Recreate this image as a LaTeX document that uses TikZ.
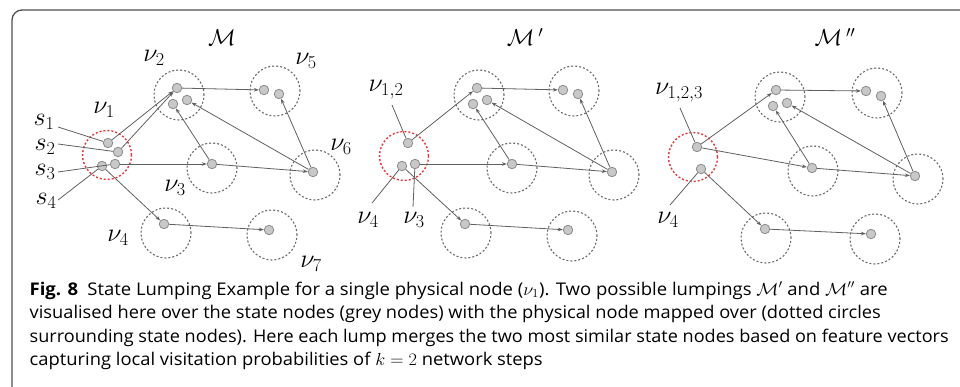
\RequirePackage{fix-cm}
\documentclass[tikz,border=0pt]{standalone}
\usepackage{graphicx}
\usepackage[no-math]{fontspec}
\setmainfont{Open Sans}
\usetikzlibrary{arrows.meta}
\definecolor{dotfill}{HTML}{C8C8C8}
\definecolor{dotdraw}{HTML}{8C8C8C}
\definecolor{ringc}{HTML}{6A6A6A}
\definecolor{redringc}{HTML}{E2383A}
\definecolor{edgec}{HTML}{606060}
\definecolor{framec}{HTML}{505050}
\begin{document}
\begin{tikzpicture}[x=1pt,y=-1pt,
 sdot/.style={circle,fill=dotfill,draw=dotdraw,line width=0.8pt,minimum size=9.5pt,inner sep=0pt},
 pring/.style={circle,draw=ringc,dash pattern=on 2pt off 2pt,line width=1.1pt,minimum size=50pt,inner sep=0pt},
 redring/.style={pring,draw=redringc,line width=1.4pt,minimum size=49pt},
 arr/.style={draw=edgec,line width=0.8pt,-{Stealth[length=5pt,width=3.6pt]}},
 ptr/.style={draw=edgec,line width=0.8pt},
 lab/.style={inner sep=0pt,font=\fontsize{26}{28}\selectfont},
 ttl/.style={inner sep=0pt,font=\fontsize{23}{26}\selectfont},
 captxt/.style={anchor=base west,inner sep=0pt,font=\fontsize{17.5}{20}\selectfont},
 frame/.style={draw=framec,line width=1.3pt}]
\useasboundingbox (0,0) rectangle (960,387);
\draw[frame,rounded corners=10pt] (12,387) -- (12,10) -- (961,10);

% ---------- panel 1 ----------
\node[ttl] (t1) at (222,38) {$\mathcal{M}$};
\node[pring] (r12) at (179,95) {};
\node[pring] (r15) at (275,91) {};
\node[pring] (r13) at (212,168) {};
\node[pring] (r16) at (315,175) {};
\node[pring] (r14) at (166,233) {};
\node[pring] (r17) at (272,235) {};
\node[redring] (r11) at (107,155) {};
\node[sdot] (a2a) at (177,88) {};
\node[sdot] (a2b) at (173,104) {};
\node[sdot] (a2c) at (187,100) {};
\node[sdot] (a5a) at (264,90) {};
\node[sdot] (a5b) at (279,94) {};
\node[sdot] (a3) at (212,164) {};
\node[sdot] (a6) at (313,172) {};
\node[sdot] (a4) at (164,224) {};
\node[sdot] (a7) at (269,230) {};
\node[sdot] (s1) at (108,143) {};
\node[sdot] (s2) at (118,152) {};
\node[sdot] (s3) at (115,164) {};
\node[sdot] (s4) at (102,166) {};
\node[lab] (la2) at (154,58) {$\nu_2$};
\node[lab] (la5) at (306,61) {$\nu_5$};
\node[lab] (la1) at (104,110) {$\nu_1$};
\node[lab] (la6) at (341,147) {$\nu_6$};
\node[lab] (la3) at (175,188) {$\nu_3$};
\node[lab] (la4) at (118,238) {$\nu_4$};
\node[lab] (la7) at (311,264) {$\nu_7$};
\node[lab] (ls1) at (44,122) {$s_1$};
\node[lab] (ls2) at (45,147) {$s_2$};
\node[lab] (ls3) at (45,172) {$s_3$};
\node[lab] (ls4) at (46,201) {$s_4$};
\coordinate (q1) at (58,127);
\coordinate (q2) at (58,144);
\coordinate (q3) at (58,172);
\coordinate (q4) at (58,200);
\draw[ptr] (q1) -- (s1);
\draw[ptr] (q2) -- (s2);
\draw[ptr] (q3) -- (s3);
\draw[ptr] (q4) -- (s4);
\draw[arr] (s1) -- (a2a);
\draw[arr] (s2) -- (a2a);
\draw[arr] (s3) -- (a3);
\draw[arr] (s4) -- (a4);
\draw[arr] (a2a) -- (a5a);
\draw[arr] (a3) -- (a2b);
\draw[arr] (a3) -- (a6);
\draw[arr] (a6) -- (a2c);
\draw[arr] (a6) -- (a5b);
\draw[arr] (a4) -- (a7);

% ---------- panel 2 ----------
\node[ttl] (t2) at (525,37) {$\mathcal{M}\,^{\prime}$};
\node[pring] (r22) at (479,95) {};
\node[pring] (r25) at (574,91) {};
\node[pring] (r23) at (512,168) {};
\node[pring] (r26) at (614,175) {};
\node[pring] (r24) at (466,233) {};
\node[pring] (r27) at (572,236) {};
\node[redring] (r21) at (404,156) {};
\node[sdot] (b2a) at (477,88) {};
\node[sdot] (b2b) at (473,104) {};
\node[sdot] (b2c) at (487,100) {};
\node[sdot] (b5a) at (563,90) {};
\node[sdot] (b5b) at (578,94) {};
\node[sdot] (b3) at (512,164) {};
\node[sdot] (b6) at (612,172) {};
\node[sdot] (b4) at (465,224) {};
\node[sdot] (b7) at (568,230) {};
\node[sdot] (m12) at (408,143) {};
\node[sdot] (m4) at (402,166) {};
\node[sdot] (m3) at (415,164) {};
\node[lab] (lb12) at (386,90) {$\nu_{1,2}$};
\node[lab] (lb4) at (368,220) {$\nu_4$};
\node[lab] (lb3) at (414,220) {$\nu_3$};
\coordinate (q5) at (392,105);
\coordinate (q6) at (372,203);
\coordinate (q7) at (413,207);
\draw[ptr] (q5) -- (m12);
\draw[ptr] (q6) -- (m4);
\draw[ptr] (q7) -- (m3);
\draw[arr] (m12) -- (b2a);
\draw[arr] (m3) -- (b3);
\draw[arr] (m4) -- (b4);
\draw[arr] (b2a) -- (b5a);
\draw[arr] (b3) -- (b2b);
\draw[arr] (b3) -- (b6);
\draw[arr] (b6) -- (b2c);
\draw[arr] (b6) -- (b5b);
\draw[arr] (b4) -- (b7);

% ---------- panel 3 ----------
\node[ttl] (t3) at (835,37) {$\mathcal{M}\,^{\prime\prime}$};
\node[pring] (r32) at (780,97) {};
\node[pring] (r35) at (877,93) {};
\node[pring] (r33) at (813,171) {};
\node[pring] (r36) at (918,179) {};
\node[pring] (r34) at (766,238) {};
\node[pring] (r37) at (875,239) {};
\node[redring] (r31) at (693,157) {};
\node[sdot] (c2a) at (776,90) {};
\node[sdot] (c2b) at (773,106) {};
\node[sdot] (c2c) at (787,103) {};
\node[sdot] (c5a) at (866,91) {};
\node[sdot] (c5b) at (881,96) {};
\node[sdot] (c3) at (812,168) {};
\node[sdot] (c6) at (915,176) {};
\node[sdot] (c4) at (765,229) {};
\node[sdot] (c7) at (871,234) {};
\node[sdot] (n123) at (697,147) {};
\node[sdot] (n4) at (701,169) {};
\node[lab] (lc123) at (679,93) {$\nu_{1,2,3}$};
\node[lab] (lc4) at (668,220) {$\nu_4$};
\coordinate (q8) at (680,108);
\coordinate (q9) at (670,205);
\draw[ptr] (q8) -- (n123);
\draw[ptr] (q9) -- (n4);
\draw[arr] (n123) -- (c2a);
\draw[arr] (n123) -- (c3);
\draw[arr] (n4) -- (c4);
\draw[arr] (c2a) -- (c5a);
\draw[arr] (c3) -- (c2b);
\draw[arr] (c3) -- (c6);
\draw[arr] (c6) -- (c2c);
\draw[arr] (c6) -- (c5b);
\draw[arr] (c4) -- (c7);

% ---------- caption ----------
\node[captxt] (cap1) at (29.5,295) {\resizebox{858pt}{\height}{\textbf{Fig. 8}\hspace{0.5em}State Lumping Example for a single physical node ($\nu_1$). Two possible lumpings $\mathcal{M}'$ and $\mathcal{M}''$ are}};
\node[captxt] (cap2) at (29.5,318.5) {\resizebox{851pt}{\height}{visualised here over the state nodes (grey nodes) with the physical node mapped over (dotted circles}};
\node[captxt] (cap3) at (29.5,342) {\resizebox{919pt}{\height}{surrounding state nodes). Here each lump merges the two most similar state nodes based on feature vectors}};
\node[captxt] (cap4) at (29.5,365.5) {\resizebox{513pt}{\height}{capturing local visitation probabilities of $k=2$ network steps}};
\end{tikzpicture}
\end{document}
